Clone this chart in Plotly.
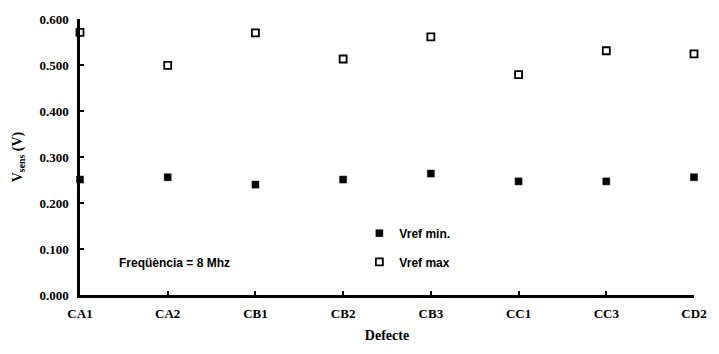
import plotly.graph_objects as go

categories = ["CA1", "CA2", "CB1", "CB2", "CB3", "CC1", "CC3", "CD2"]
vref_min = [0.251, 0.256, 0.240, 0.251, 0.264, 0.247, 0.247, 0.256]
vref_max = [0.571, 0.499, 0.570, 0.513, 0.561, 0.479, 0.531, 0.524]
y_ticks = [0.0, 0.1, 0.2, 0.3, 0.4, 0.5, 0.6]
y_ticktext = ["0.000", "0.100", "0.200", "0.300", "0.400", "0.500", "0.600"]

xpos = list(range(len(categories)))

fig = go.Figure()
fig.add_trace(go.Scatter(
    x=xpos, y=vref_min, mode="markers", name="Vref min.", legend="legend",
    marker=dict(symbol="square", size=7, color="black", line=dict(color="black", width=0.5)),
    cliponaxis=False,
))
fig.add_trace(go.Scatter(
    x=xpos, y=vref_max, mode="markers", name="Vref max", legend="legend2",
    marker=dict(symbol="square", size=7, color="white", line=dict(color="black", width=1.8)),
    cliponaxis=False,
))

serif = "Liberation Serif"
sans_bold = dict(family="Liberation Sans", size=12, color="black", weight="bold")
fig.update_layout(
    width=719, height=354,
    margin=dict(l=80, r=16, t=18, b=59),
    paper_bgcolor="white", plot_bgcolor="white",
    showlegend=True,
    legend=dict(x=0.455, y=0.224, xanchor="left", yanchor="middle",
                font=sans_bold, bgcolor="rgba(0,0,0,0)", itemwidth=30),
    legend2=dict(x=0.455, y=0.12, xanchor="left", yanchor="middle",
                 font=sans_bold, bgcolor="rgba(0,0,0,0)", itemwidth=30),
    annotations=[dict(text="Freqüència = 8 Mhz", x=0.061, y=0.116, xref="paper", yref="paper",
                      xanchor="left", yanchor="middle", showarrow=False,
                      font=sans_bold)],
)
fig.update_xaxes(
    range=[0, 7], tickmode="array", tickvals=xpos, ticktext=categories,
    showline=True, linecolor="black", linewidth=2.5, mirror=False,
    ticks="inside", ticklen=4, tickwidth=1.5, tickcolor="black",
    showgrid=False, zeroline=False,
    tickfont=dict(family=serif, size=13, color="black", weight="bold"),
    ticklabelstandoff=5,
    title=dict(text="Defecte", font=dict(family=serif, size=14, color="black", weight="bold"), standoff=10),
)
fig.update_yaxes(
    range=[0, 0.6], tickmode="array", tickvals=y_ticks, ticktext=y_ticktext,
    showline=True, linecolor="black", linewidth=2.5,
    ticks="inside", ticklen=4, tickwidth=1.5, tickcolor="black",
    showgrid=False, zeroline=False,
    tickfont=dict(family=serif, size=13, color="black", weight="bold"),
    ticklabelstandoff=6,
    title=dict(text="V<sub>sens</sub> (V)", font=dict(family=serif, size=14, color="black", weight="bold"), standoff=14),
)

fig.write_html("out.html")
